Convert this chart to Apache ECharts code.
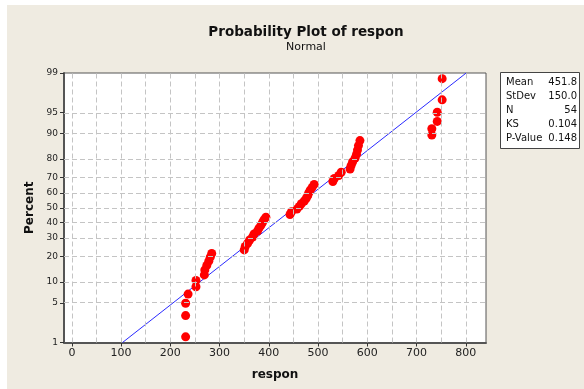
<!DOCTYPE html>
<html><head><meta charset="utf-8">
<script src="https://cdn.jsdelivr.net/npm/echarts@6/dist/echarts.min.js"></script>
<style>html,body{margin:0;padding:0;background:#fff}#c{width:584px;height:389px}</style>
</head><body><div id="c"></div>
<script>
// Data (sorted observations of "respon") and their plotted percents
const respon = [231,231,231,236,252,252,269,270,274,278,281,284,
  350,352,357,361,367,370,377,380,384,387,390,394,
  443,446,457,462,466,472,476,479,481,484,488,492,
  530,533,542,547,565,567,570,575,578,580,582,585,
  731,731,742,742,752,752];
const percent = [1.29,3.13,4.96,6.80,8.64,10.48,12.32,14.15,15.99,17.83,19.67,21.51,
  23.35,25.18,27.02,28.86,30.70,32.54,34.38,36.21,38.05,39.89,41.73,43.57,
  45.40,47.24,49.08,50.92,52.76,54.60,56.43,58.27,60.11,61.95,63.79,65.63,
  67.46,69.30,71.14,72.98,74.82,76.65,78.49,80.33,82.17,84.01,85.85,87.68,
  89.52,91.36,93.20,95.04,96.88,98.71];
const yTickPercents = [1,5,10,20,30,40,50,60,70,80,90,95,99];
const xTickLabels = [0,100,200,300,400,500,600,700,800];
const xGridValues = [0,50,100,150,200,250,300,350,400,450,500,550,600,650,700,750,800];
const statLabels = ['Mean','StDev','N','KS','P-Value'];
const statValues = ['451.8','150.0','54','0.104','0.148'];
const fitMean = 451.8, fitSD = 150.0;

function normInv(p){
  const a=[-3.969683028665376e+01,2.209460984245205e+02,-2.759285104469687e+02,1.383577518672690e+02,-3.066479806614716e+01,2.506628277459239e+00];
  const b=[-5.447609879822406e+01,1.615858368580409e+02,-1.556989798598866e+02,6.680131188771972e+01,-1.328068155288572e+01];
  const c=[-7.784894002430293e-03,-3.223964580411365e-01,-2.400758277161838e+00,-2.549671324542331e+00,4.374664141464968e+00,2.938163982698783e+00];
  const d=[7.784695709041462e-03,3.224671290700398e-01,2.445134137142996e+00,3.754408661907416e+00];
  const pl=0.02425, ph=1-pl; let q,r;
  if(p<pl){q=Math.sqrt(-2*Math.log(p));return (((((c[0]*q+c[1])*q+c[2])*q+c[3])*q+c[4])*q+c[5])/((((d[0]*q+d[1])*q+d[2])*q+d[3])*q+1);}
  if(p<=ph){q=p-0.5;r=q*q;return (((((a[0]*r+a[1])*r+a[2])*r+a[3])*r+a[4])*r+a[5])*q/(((((b[0]*r+b[1])*r+b[2])*r+b[3])*r+b[4])*r+1);}
  q=Math.sqrt(-2*Math.log(1-p));return -(((((c[0]*q+c[1])*q+c[2])*q+c[3])*q+c[4])*q+c[5])/((((d[0]*q+d[1])*q+d[2])*q+d[3])*q+1);
}
const yTickZ = yTickPercents.map(p=>normInv(p/100));
const zMin = yTickZ[0], zMax = yTickZ[yTickZ.length-1];
const points = respon.map((v,i)=>[v, normInv(percent[i]/100)]);

const FONT = 'DejaVu Sans';
const chart = echarts.init(document.getElementById('c'), null, {renderer:'canvas'});
const gridLine = {color:'#c4c4c4', width:1, type:[5,3]};

const statGraphics = [];
statLabels.forEach((l,i)=>{
  statGraphics.push({type:'text', left:506, top:77+i*14.2, style:{text:l, fill:'#111', font:'10px "DejaVu Sans"'}});
  statGraphics.push({type:'text', right:584-577, top:77+i*14.2, style:{text:statValues[i], fill:'#111', font:'10px "DejaVu Sans"', textAlign:'right'}});
});

chart.setOption({
  backgroundColor:'#ffffff',
  animation:false,
  title:{
    text:'Probability Plot of respon', subtext:'Normal',
    left:301, top:20, textAlign:'center', itemGap:3,
    textStyle:{fontFamily:FONT, fontWeight:'bold', fontSize:13.5, color:'#111'},
    subtextStyle:{fontFamily:FONT, fontSize:11, color:'#111'}
  },
  graphic:[
    {type:'rect', z:-10, shape:{x:7,y:5,width:577,height:384}, style:{fill:'#efebe1'}},
    {type:'rect', z:10, shape:{x:500.5,y:72.5,width:79,height:76}, style:{fill:'#fff', stroke:'#444', lineWidth:1}},
    ...statGraphics.map(g=>Object.assign(g,{z:11}))
  ],
  grid:{left:64, right:98, top:73, bottom:46.5, show:true, backgroundColor:'#fff', borderColor:'#555', borderWidth:1},
  xAxis:{
    type:'value', min:-16, max:841,
    name:'respon', nameLocation:'middle', nameGap:26,
    nameTextStyle:{fontFamily:FONT, fontWeight:'bold', fontSize:12, color:'#111'},
    axisLine:{show:true, onZero:false, lineStyle:{color:'#555', width:2}},
    axisTick:{show:true, length:4, customValues:xTickLabels, lineStyle:{color:'#333'}},
    axisLabel:{customValues:xTickLabels, fontFamily:FONT, fontSize:11, color:'#222', margin:5},
    splitLine:{show:false}
  },
  yAxis:{
    type:'value', min:zMin, max:zMax,
    name:'Percent', nameLocation:'middle', nameGap:26, nameRotate:90,
    nameTextStyle:{fontFamily:FONT, fontWeight:'bold', fontSize:12, color:'#111'},
    axisLine:{show:true, onZero:false, lineStyle:{color:'#555', width:2}},
    axisTick:{show:true, length:4, customValues:yTickZ, lineStyle:{color:'#333'}},
    axisLabel:{customValues:yTickZ, fontFamily:FONT, fontSize:9, color:'#222', margin:6,
      formatter:(v)=>{const i=yTickZ.findIndex(z=>Math.abs(z-v)<1e-6);return i>=0?String(yTickPercents[i]):'';}},
    splitLine:{show:false}
  },
  series:[
    {type:'line', data:[], silent:true,
      markLine:{silent:true, symbol:'none', label:{show:false}, lineStyle:gridLine, animation:false,
        data:[...xGridValues.map(v=>({xAxis:v})), ...yTickZ.slice(1,-1).map(z=>({yAxis:z}))]}},
    {type:'line', data:[[fitMean+fitSD*zMin, zMin],[fitMean+fitSD*zMax, zMax]], symbol:'none',
      lineStyle:{color:'#2a2aff', width:1}, z:3, silent:true},
    {type:'scatter', data:points, symbol:'circle', symbolSize:9, itemStyle:{color:'#ff0000', opacity:1}, z:4}
  ]
});
</script></body></html>
